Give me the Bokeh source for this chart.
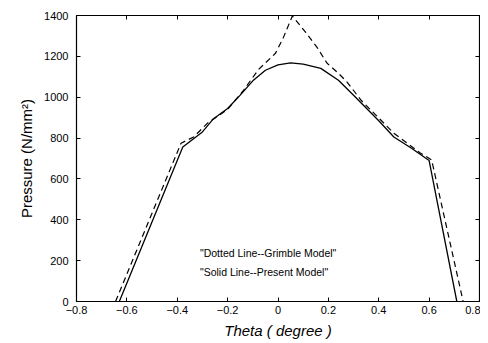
from bokeh.plotting import figure
from bokeh.models import LinearAxis, FixedTicker, Label
from bokeh.embed import file_html
from bokeh.resources import INLINE

# Present model (solid)
theta_present = [-0.63, -0.378, -0.3, -0.256, -0.2, -0.15, -0.1, -0.05, 0.0, 0.05, 0.1, 0.17, 0.24, 0.3, 0.4, 0.46, 0.53, 0.6, 0.71]
p_present = [0, 756, 830, 895, 945, 1010, 1080, 1132, 1158, 1168, 1162, 1141, 1083, 1010, 885, 805, 750, 690, 0]

# Grimble model (dashed)
theta_grimble = [-0.645, -0.385, -0.335, -0.28, -0.2, -0.137, -0.077, -0.01, 0.02, 0.057, 0.11, 0.155, 0.195, 0.24, 0.275, 0.33, 0.46, 0.565, 0.61, 0.735]
p_grimble = [0, 775, 805, 873, 940, 1034, 1136, 1215, 1288, 1398, 1317, 1244, 1166, 1117, 1073, 985, 824, 727, 693, 0]

x_ticks = [-0.8, -0.6, -0.4, -0.2, 0, 0.2, 0.4, 0.6, 0.8]
y_ticks = [0, 200, 400, 600, 800, 1000, 1200, 1400]
note1 = '"Dotted Line--Grimble Model"'
note2 = '"Solid Line--Present Model"'

FONT = "Liberation Sans"

p = figure(width=480, height=341, x_range=(-0.8, 0.8), y_range=(0, 1400),
           output_backend="svg", toolbar_location=None,
           min_border_left=76, min_border_right=1, min_border_top=15, min_border_bottom=39)
p.background_fill_color = "white"
p.border_fill_color = "white"
p.outline_line_color = "black"
p.outline_line_width = 1.2
p.grid.visible = False

p.line(theta_grimble, p_grimble, line_color="black", line_width=1.2, line_dash="6 4")
p.line(theta_present, p_present, line_color="black", line_width=1.3)

for ax in [p.xaxis[0], p.yaxis[0]]:
    ax.major_tick_in = 4
    ax.major_tick_out = 0
    ax.minor_tick_in = 0
    ax.minor_tick_out = 0
    ax.axis_line_color = "black"
    ax.major_label_text_font = FONT
    ax.major_label_text_font_size = "11px"
    ax.major_label_text_color = "black"
    ax.axis_label_text_font = FONT
    ax.axis_label_text_font_size = "15px"
    ax.axis_label_text_color = "black"

p.xaxis[0].ticker = FixedTicker(ticks=x_ticks)
p.yaxis[0].ticker = FixedTicker(ticks=y_ticks)
p.xaxis[0].major_label_standoff = 4
p.yaxis[0].major_label_standoff = 8
p.xaxis[0].axis_label = "Theta ( degree )"
p.xaxis[0].axis_label_text_font_style = "italic"
p.xaxis[0].axis_label_standoff = 5
p.yaxis[0].axis_label = "Pressure (N/mm\u00b2)"
p.yaxis[0].axis_label_text_font_style = "normal"
p.yaxis[0].axis_label_standoff = 6

top = LinearAxis(ticker=FixedTicker(ticks=x_ticks), major_tick_in=4, major_tick_out=0,
                 minor_tick_in=0, minor_tick_out=0, major_label_text_alpha=0,
                 major_label_text_font_size="1px", major_label_standoff=0, axis_label=None)
right = LinearAxis(ticker=FixedTicker(ticks=y_ticks), major_tick_in=4, major_tick_out=0,
                   minor_tick_in=0, minor_tick_out=0, major_label_text_alpha=0,
                   major_label_text_font_size="1px", major_label_standoff=0, axis_label=None)
p.add_layout(top, "above")
p.add_layout(right, "right")

p.add_layout(Label(x=-0.31, y=239, text=note1, text_font=FONT, text_font_size="10.5px",
                   text_color="black", text_baseline="middle"))
p.add_layout(Label(x=-0.31, y=146, text=note2, text_font=FONT, text_font_size="10.5px",
                   text_color="black", text_baseline="middle"))

open("out.html", "w").write(file_html(p, INLINE))
